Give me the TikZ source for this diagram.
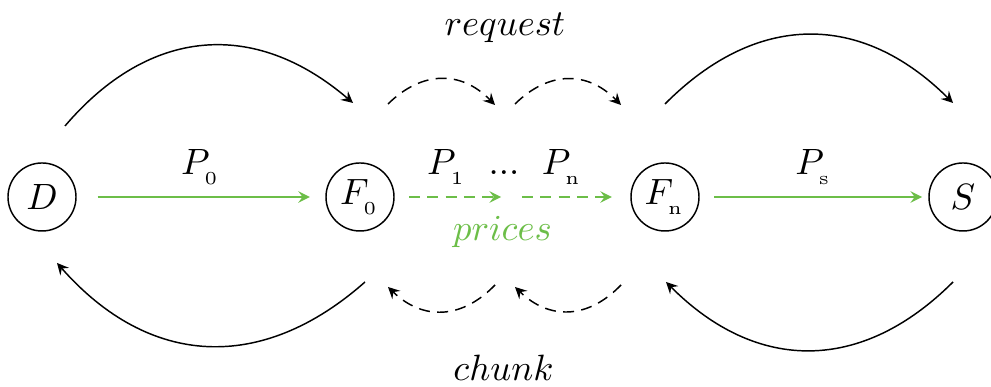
\documentclass[tikz,border=0pt]{standalone}
\usetikzlibrary{arrows}
\definecolor{pricegreen}{RGB}{108,190,72}

\begin{document}
\begin{tikzpicture}[>=stealth, x=0.96cm, y=0.96cm,
  peer/.style={draw, circle, minimum size=0.653cm, inner sep=0pt},
  price/.style={->, pricegreen},
  msg/.style={->, bend left=45, looseness=1.15}]

\useasboundingbox (0,0) rectangle (9.91,3.87);

\node[peer] (D) at (0.42,1.90) {$D$};
\node[peer] (F0) at (3.60,1.90) {$F_{_0}$};
\node[peer] (Fn) at (6.65,1.90) {$F_{_\mathrm{n}}$};
\node[peer] (S) at (9.63,1.90) {$S$};
\coordinate (Fk) at (5.11,1.90);

% prices
\draw[price, shorten <=5.7pt, shorten >=4.2pt] (D) -- (F0) node[above, midway, text=black] (P0) {$P_{_0}$};
\draw[price, densely dashed, shorten <=3.9pt, shorten >=2.7pt] (F0) -- (Fk) node[above, pos=0.45, text=black] (P1) {$P_{_1}$};
\draw[price, densely dashed, shorten <=3pt, shorten >=5pt] (Fk) -- (Fn) node[above, pos=0.43, text=black] (Pn) {$P_{_\mathrm{n}}$};
\draw[price, shorten <=3.9pt, shorten >=1.7pt] (Fn) -- (S) node[above, midway, text=black] (Ps) {$P_{_\mathrm{s}}$};
\node (dots) at (5.04,2.14) {$...$};
\node[text=pricegreen] (prices) at (5.025,1.555) {$prices$};

% request arcs
\coordinate (q0) at (0.65,2.61); \coordinate (q1) at (3.53,2.84);
\coordinate (q2) at (3.88,2.83); \coordinate (q3) at (4.95,2.82);
\coordinate (q4) at (5.15,2.83); \coordinate (q5) at (6.21,2.82);
\coordinate (q6) at (6.65,2.83); \coordinate (q7) at (9.53,2.84);
\draw[msg] (q0) to (q1);
\draw[msg, densely dashed] (q2) to (q3);
\draw[msg, densely dashed] (q4) to (q5);
\draw[msg] (q6) to (q7);
\node (request) at (5.05,3.595) {$request$};

% chunk arcs
\coordinate (c0) at (0.57,1.24); \coordinate (c1) at (3.65,1.05);
\coordinate (c2) at (3.88,1.00); \coordinate (c3) at (4.95,1.02);
\coordinate (c4) at (5.15,1.00); \coordinate (c5) at (6.21,1.02);
\coordinate (c6) at (6.66,1.05); \coordinate (c7) at (9.53,1.05);
\draw[msg] (c1) to (c0);
\draw[msg, densely dashed] (c3) to (c2);
\draw[msg, densely dashed] (c5) to (c4);
\draw[msg] (c7) to (c6);
\node (chunk) at (5.035,0.195) {$chunk$};

\end{tikzpicture}
\end{document}
